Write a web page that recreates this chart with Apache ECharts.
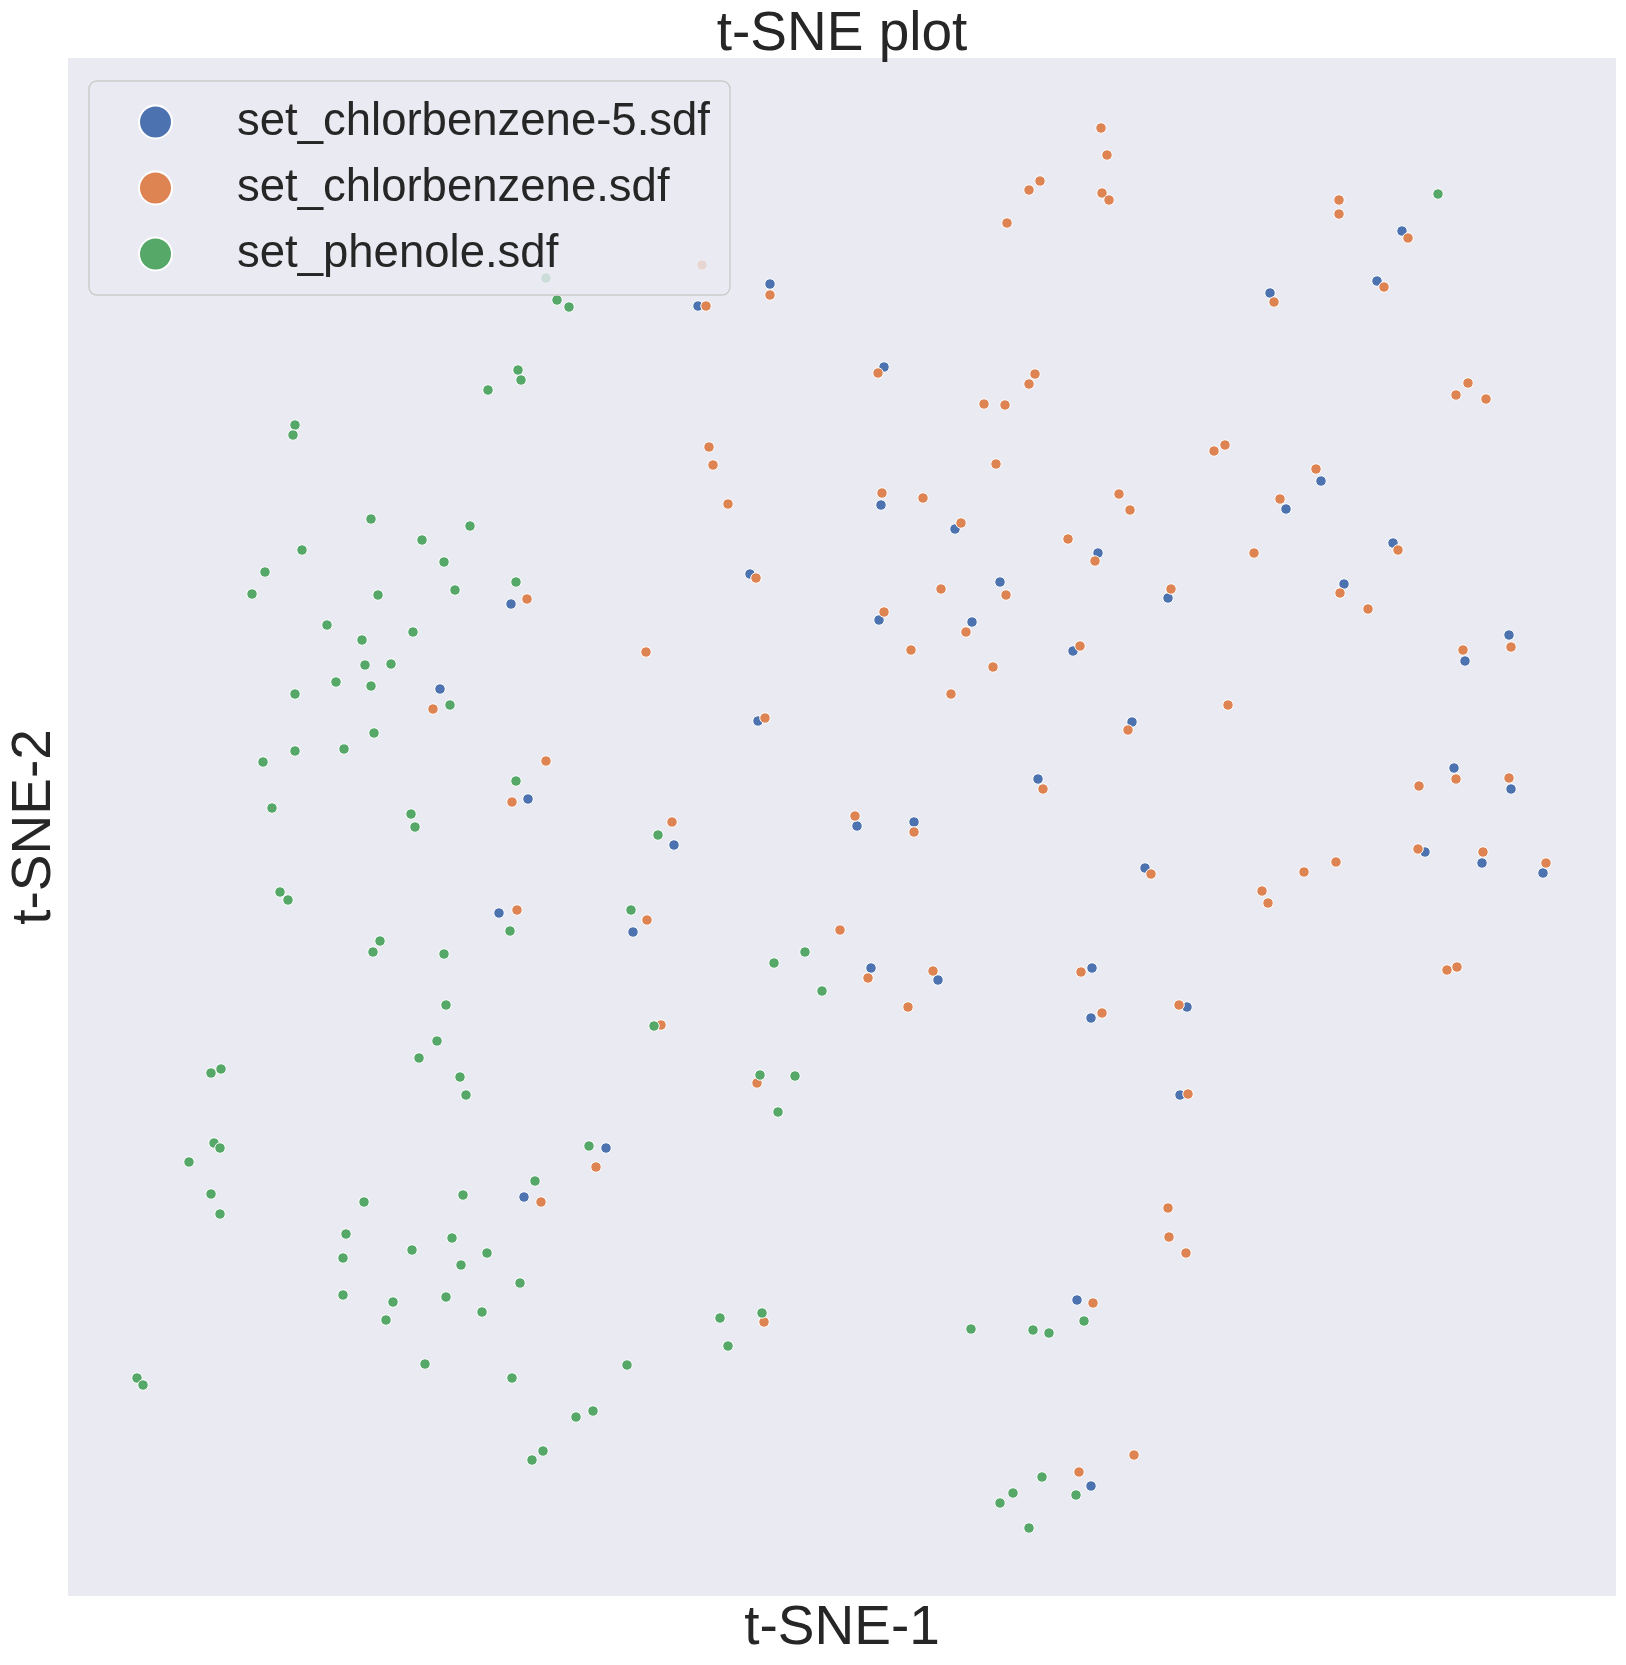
<!DOCTYPE html>
<html>
<head>
<meta charset="utf-8">
<title>t-SNE plot</title>
<script src="https://cdn.jsdelivr.net/npm/echarts@6/dist/echarts.min.js"></script>
<style>
  html, body { margin: 0; padding: 0; background: #ffffff; }
  #chart { width: 1626px; height: 1665px; }
</style>
</head>
<body>
<div id="chart"></div>
<script>
// t-SNE coordinates (arbitrary units, [t-SNE-1, t-SNE-2])
const seriesNames = ['set_chlorbenzene-5.sdf', 'set_chlorbenzene.sdf', 'set_phenole.sdf'];

const chlorbenzene5 = [
  [702,1312],[630,1290],[816,1229],[1334,1365],[1202,1303],[1309,1315],[443,992],[372,907],
  [460,797],[813,1091],[887,1067],[1030,1043],[682,1022],[932,1014],[811,976],[904,974],
  [1005,945],[690,875],[970,817],[789,770],[846,774],[1253,1115],[1218,1087],[1325,1053],
  [1100,998],[1276,1012],[1441,961],[1397,935],[1064,874],[1386,828],[1443,807],[431,683],
  [456,399],[606,751],[565,664],[803,628],[870,616],[1024,628],[1023,578],[538,448],
  [1077,728],[1357,744],[1414,733],[1475,723],[1119,589],[1112,501],[1009,296],[1023,110]
];

const chlorbenzene = [
  [634,1331],[702,1301],[638,1290],[810,1223],[972,1415],[961,1406],[939,1373],[1033,1468],
  [1039,1441],[1034,1403],[1041,1396],[1271,1396],[1271,1382],[1340,1358],[1206,1294],[1316,1309],
  [1400,1213],[1388,1201],[1418,1197],[967,1222],[961,1212],[916,1192],[937,1191],[641,1149],
  [645,1131],[660,1092],[928,1132],[814,1103],[855,1098],[893,1073],[1000,1057],[1027,1035],
  [688,1018],[873,1007],[938,1001],[816,984],[898,964],[578,944],[843,946],[1012,950],
  [925,929],[883,902],[697,878],[975,807],[604,774],[787,780],[846,764],[1157,1151],
  [1146,1145],[1248,1127],[1051,1102],[1062,1086],[1212,1097],[1186,1043],[1330,1046],[1103,1007],
  [1272,1003],[1300,987],[1443,949],[1395,946],[1160,891],[1060,866],[1388,817],[1351,810],
  [1441,818],[459,997],[365,887],[478,835],[444,794],[449,686],[473,394],[579,676],
  [772,666],[800,618],[865,625],[840,589],[1013,624],[1034,583],[593,571],[689,513],
  [528,429],[1083,722],[1194,705],[1200,693],[1236,724],[1268,734],[1350,747],[1415,744],
  [1478,733],[1379,626],[1389,629],[1111,591],[1120,502],[1100,388],[1101,359],[1118,343],
  [1066,141],[696,274],[1025,293],[1011,124]
];

const phenole = [
  [478,1318],[489,1296],[501,1289],[450,1226],[453,1216],[420,1206],[227,1171],[225,1161],
  [1370,1402],[303,1077],[402,1070],[354,1056],[234,1046],[376,1034],[197,1024],[184,1002],
  [310,1001],[387,1006],[448,1014],[259,971],[294,956],[345,964],[297,931],[323,932],
  [268,914],[303,910],[227,902],[382,891],[306,863],[227,845],[276,847],[195,834],
  [448,815],[204,788],[343,782],[347,769],[212,704],[220,696],[442,665],[312,655],
  [305,644],[376,642],[378,591],[369,555],[351,538],[392,519],[398,501],[153,527],
  [143,523],[146,453],[152,448],[121,434],[467,415],[143,402],[296,394],[395,401],
  [152,382],[590,761],[563,686],[737,644],[706,633],[754,605],[586,570],[692,521],
  [727,520],[710,484],[521,450],[278,362],[275,338],[275,301],[344,346],[384,358],
  [419,343],[393,331],[452,313],[325,294],[318,276],[378,299],[414,284],[357,232],
  [444,218],[69,218],[75,211],[508,179],[475,145],[464,136],[652,278],[694,283],
  [660,250],[559,231],[525,185],[1016,275],[903,267],[965,266],[981,263],[974,119],
  [945,103],[932,93],[1008,101],[961,68]
];

const xRange = [0, 1548];
const yRange = [0, 1538];

const palette = ['#4C72B0', '#DD8452', '#55A868'];
const seriesData = [chlorbenzene5, chlorbenzene, phenole];

const chart = echarts.init(document.getElementById('chart'), null, { renderer: 'canvas' });

const textColor = '#262626';
const fontFamily = '"Liberation Sans", Arial, Helvetica, sans-serif';

const option = {
  animation: false,
  backgroundColor: '#ffffff',
  color: palette,
  title: {
    text: 't-SNE plot',
    left: 837,
    top: 2,
    textAlign: 'center',
    textStyle: { fontSize: 55, fontWeight: 'normal', color: textColor, fontFamily: fontFamily }
  },
  grid: {
    left: 68,
    top: 58,
    width: 1548,
    height: 1538,
    containLabel: false,
    outerBoundsMode: 'none',
    show: true,
    backgroundColor: '#EAEAF2',
    borderWidth: 0
  },
  legend: {
    data: seriesNames,
    orient: 'vertical',
    left: 89,
    top: 81,
    padding: [18, 20, 18, 49],
    itemGap: 20,
    itemWidth: 33,
    itemHeight: 33,
    icon: 'circle',
    backgroundColor: 'rgba(234,234,242,0.8)',
    borderColor: '#cccccc',
    borderWidth: 1.5,
    borderRadius: 8,
    textStyle: {
      fontSize: 45.5,
      lineHeight: 46,
      color: textColor,
      fontFamily: fontFamily,
      padding: [0, 0, 0, 60]
    }
  },
  xAxis: {
    type: 'value',
    min: xRange[0],
    max: xRange[1],
    name: 't-SNE-1',
    nameLocation: 'middle',
    nameGap: 5,
    nameTextStyle: { fontSize: 55, color: textColor, fontFamily: fontFamily },
    axisLine: { show: false },
    axisTick: { show: false },
    axisLabel: { show: false },
    splitLine: { show: false }
  },
  yAxis: {
    type: 'value',
    min: yRange[0],
    max: yRange[1],
    name: 't-SNE-2',
    nameLocation: 'middle',
    nameRotate: 90,
    nameGap: 6,
    nameTextStyle: { fontSize: 55, color: textColor, fontFamily: fontFamily },
    axisLine: { show: false },
    axisTick: { show: false },
    axisLabel: { show: false },
    splitLine: { show: false }
  },
  series: seriesNames.map((name, i) => ({
    name: name,
    type: 'scatter',
    data: seriesData[i],
    symbol: 'circle',
    symbolSize: 10.5,
    itemStyle: { color: palette[i], borderColor: '#ffffff', borderWidth: 1, opacity: 1 },
    emphasis: { disabled: true }
  }))
};

chart.setOption(option);
</script>
</body>
</html>
